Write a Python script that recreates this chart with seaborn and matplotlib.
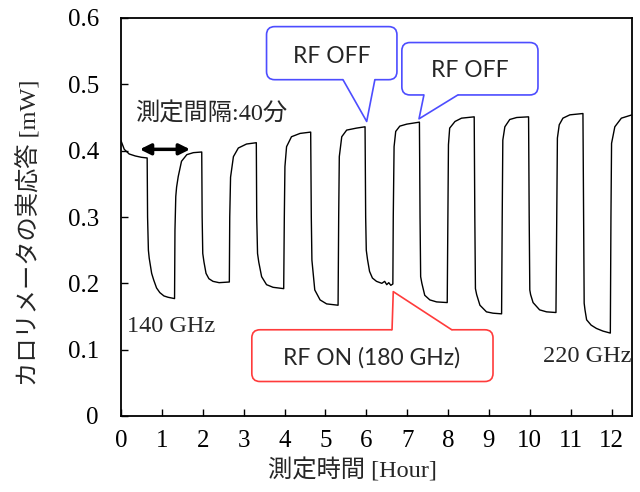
import matplotlib
matplotlib.use('Agg')
import matplotlib.pyplot as plt
import seaborn as sns
import pandas as pd
from matplotlib.patches import FancyBboxPatch, Polygon

# calorimeter response (hours, mW)
# each RF pulse: 40 min ON (drop), 40 min OFF (recovery)
time_h = [
    0.00, 0.08, 0.20, 0.35, 0.50, 0.64,                                   # before RF
    0.65, 0.67, 0.69, 0.75, 0.80, 0.87, 0.95, 1.05, 1.15, 1.31,           # 140 GHz ON
    1.32, 1.34, 1.36, 1.40, 1.48, 1.61, 1.77, 1.975,                      # OFF
    1.985, 2.00, 2.03, 2.08, 2.15, 2.25, 2.40, 2.65,                      # 150 GHz ON
    2.66, 2.68, 2.75, 2.87, 3.07, 3.31,                                   # OFF
    3.32, 3.34, 3.37, 3.44, 3.56, 3.72, 3.98,                             # 160 GHz ON
    3.995, 4.01, 4.05, 4.17, 4.38, 4.64,                                  # OFF
    4.655, 4.67, 4.69, 4.74, 4.87, 5.03, 5.31,                            # 170 GHz ON
    5.325, 5.34, 5.40, 5.52, 5.76, 5.97,                                  # OFF
    5.985, 6.00, 6.03, 6.08, 6.15, 6.25, 6.38, 6.45, 6.50, 6.55, 6.60, 6.65,  # 180 GHz ON
    6.66, 6.68, 6.72, 6.82, 6.99, 7.30,                                   # OFF
    7.315, 7.33, 7.36, 7.43, 7.555, 7.72, 7.98,                           # 190 GHz ON
    7.995, 8.01, 8.04, 8.17, 8.33, 8.64,                                  # OFF
    8.655, 8.67, 8.70, 8.78, 8.94, 9.10, 9.31,                            # 200 GHz ON
    9.325, 9.34, 9.39, 9.51, 9.68, 9.97,                                  # OFF
    9.985, 10.00, 10.02, 10.08, 10.24, 10.41, 10.64,                      # 210 GHz ON
    10.66, 10.675, 10.72, 10.81, 10.98, 11.30,                            # OFF
    11.315, 11.33, 11.35, 11.39, 11.50, 11.63, 11.79, 11.97,              # 220 GHz ON
    11.985, 12.00, 12.08, 12.24, 12.50,                                   # OFF
]
power_mw = [
    0.415, 0.402, 0.395, 0.392, 0.390, 0.389,
    0.300, 0.250, 0.238, 0.215, 0.205, 0.193, 0.186, 0.181, 0.179, 0.177,
    0.280, 0.331, 0.345, 0.361, 0.384, 0.394, 0.397, 0.398,
    0.300, 0.245, 0.232, 0.215, 0.207, 0.203, 0.201, 0.202,
    0.300, 0.360, 0.391, 0.404, 0.410, 0.412,
    0.300, 0.245, 0.232, 0.210, 0.198, 0.194, 0.192,
    0.300, 0.376, 0.406, 0.421, 0.426, 0.428,
    0.300, 0.235, 0.222, 0.190, 0.175, 0.169, 0.167,
    0.300, 0.391, 0.421, 0.431, 0.434, 0.436,
    0.300, 0.250, 0.236, 0.218, 0.208, 0.203, 0.200, 0.203, 0.198, 0.201, 0.197, 0.199,
    0.300, 0.406, 0.429, 0.437, 0.440, 0.443,
    0.300, 0.210, 0.200, 0.182, 0.175, 0.172, 0.171,
    0.300, 0.409, 0.434, 0.444, 0.449, 0.451,
    0.300, 0.192, 0.183, 0.167, 0.157, 0.155, 0.154,
    0.300, 0.416, 0.436, 0.447, 0.450, 0.451,
    0.300, 0.190, 0.183, 0.171, 0.160, 0.157, 0.156,
    0.300, 0.419, 0.439, 0.449, 0.454, 0.456,
    0.300, 0.170, 0.160, 0.145, 0.137, 0.132, 0.128, 0.125,
    0.300, 0.411, 0.436, 0.449, 0.454,
]

x_ticks = list(range(13))
y_ticks = [0, 0.1, 0.2, 0.3, 0.4, 0.5, 0.6]
y_tick_labels = ['0', '0.1', '0.2', '0.3', '0.4', '0.5', '0.6']

sns.set_theme(style='ticks')
plt.rcParams['font.family'] = ['Liberation Serif', 'Noto Sans CJK JP']
plt.rcParams.update({
    'xtick.direction': 'in', 'ytick.direction': 'in',
    'xtick.major.size': 5, 'ytick.major.size': 5,
    'xtick.major.width': 1.0, 'ytick.major.width': 1.0,
    'axes.linewidth': 1.3, 'axes.edgecolor': 'black',
    'xtick.color': 'black', 'ytick.color': 'black',
})

df = pd.DataFrame({'time': time_h, 'power': power_mw})

fig = plt.figure(figsize=(6.4, 4.92), dpi=100)
ax = fig.add_axes([121 / 640, 76 / 492, 511 / 640, 398 / 492])
sns.lineplot(data=df, x='time', y='power', ax=ax, color='black', lw=1.0,
             estimator=None, sort=False)

ax.set_xlim(0, 12.5)
ax.set_ylim(0, 0.6)
ax.set_xticks(x_ticks)
ax.set_yticks(y_ticks)
ax.set_yticklabels(y_tick_labels)
ax.tick_params(axis='x', labelsize=18, pad=10)
ax.tick_params(axis='y', labelsize=18, pad=16)
for s in ['top', 'right']:
    ax.spines[s].set_visible(True)

ax.set_xlabel('測定時間 [Hour]', fontsize=17.5)
ax.xaxis.set_label_coords(0.452, -0.136)
ax.xaxis.label.set_va('center')
ax.set_ylabel('カロリメータの実応答 [mW]', fontsize=17.5)
ax.yaxis.set_label_coords(-0.182, 0.46)
ax.yaxis.label.set_va('center')

# frequency labels
ax.text(0.14, 0.127, '140 GHz', fontsize=17.5, ha='left', va='baseline')
ax.text(10.33, 0.082, '220 GHz', fontsize=17.5, ha='left', va='baseline')

# measurement interval
ax.text(0.34, 0.445, '測定間隔:40分', fontsize=17.5, ha='left', va='baseline')
ax.annotate('', xy=(0.46, 0.402), xytext=(1.69, 0.402),
            arrowprops=dict(arrowstyle='<|-|>', color='black', lw=2.5,
                            mutation_scale=16, shrinkA=0, shrinkB=0))


def callout(box, base, tip, text, text_xy, color):
    x0, x1, y0, y1 = box
    edge_y, inward = base[2], base[3]
    ax.add_patch(FancyBboxPatch((x0, y0), x1 - x0, y1 - y0,
                                boxstyle='round,pad=0,rounding_size=0.2',
                                mutation_aspect=40.9 / 663, fc='white',
                                ec=color, lw=1.2, zorder=5, clip_on=False))
    bl, br = base[0], base[1]
    ax.add_patch(Polygon([(bl, edge_y + inward), (bl, edge_y), tip,
                          (br, edge_y), (br, edge_y + inward)],
                         closed=True, fc='white', ec='none', zorder=6,
                         clip_on=False))
    ax.plot([bl, tip[0], br], [edge_y, tip[1], edge_y], color=color, lw=1.2,
            zorder=7, clip_on=False)
    ax.text(text_xy[0], text_xy[1], text, fontsize=16.5, family='Lato',
            ha='center', va='baseline', zorder=8)


blue = '#4d4dff'
red = '#ff3b3b'
callout((3.56, 6.75, 0.507, 0.587), (5.43, 6.21, 0.507, 0.006), (6.01, 0.444),
        'RF OFF', (5.16, 0.532), blue)
callout((6.87, 10.20, 0.484, 0.563), (7.41, 8.24, 0.484, 0.006), (7.29, 0.448),
        'RF OFF', (8.53, 0.511), blue)
callout((3.20, 9.10, 0.052, 0.130), (6.63, 8.09, 0.130, -0.006), (6.66, 0.1875),
        'RF ON (180 GHz)', (6.14, 0.078), red)

fig.savefig('out.png', dpi=100)
